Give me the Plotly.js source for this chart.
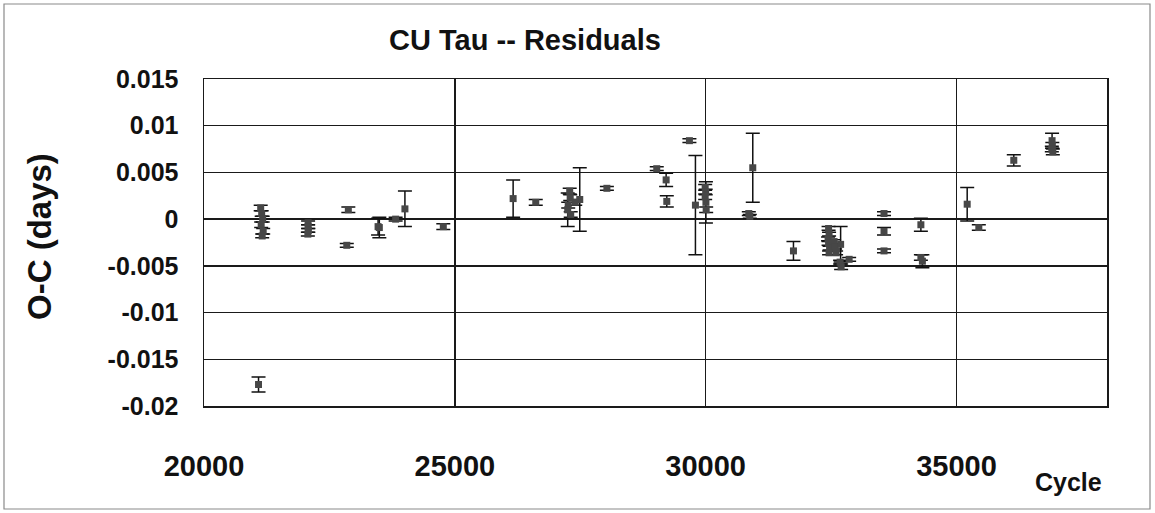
<!DOCTYPE html>
<html>
<head>
<meta charset="utf-8">
<script src="https://cdn.plot.ly/plotly-3.0.1.min.js"></script>
<style>
  html, body { margin: 0; padding: 0; background: #fff; }
  #chart { width: 1155px; height: 513px; }
</style>
</head>
<body>
<div id="chart"></div>
<script>
// Cycle numbers
const cycle = [
  21087,
  21130, 21150, 21170, 21140, 21180, 21160,
  22075, 22075, 22080, 22070,
  22877, 22846,
  23495, 23470,
  23820, 24005, 24770,
  26162, 26613,
  27290, 27300, 27260, 27250, 27310, 27490, 27400,
  28031,
  29025, 29212, 29225, 29676, 29796,
  29990, 30000, 29990, 30010, 30005,
  30939, 30860, 30880,
  31750,
  32450, 32460, 32440, 32450, 32470, 32460, 32560, 32580, 32600, 32690, 32680, 32700, 32860,
  33555, 33555, 33555,
  34290, 34290, 34320,
  35213, 35445,
  36142,
  36905, 36910, 36900, 36920
];
// O-C residuals (days)
const oc = [
  -0.0177,
  0.0012, 0.0006, 0.0000, -0.0006, -0.0013, -0.0018,
  -0.0004, -0.0008, -0.0012, -0.0016,
  0.0010, -0.0028,
  -0.0009, -0.0008,
  0.0000, 0.0011, -0.0008,
  0.0022, 0.0018,
  0.0030, 0.0023, 0.0015, 0.0010, 0.0005, 0.0021, 0.0018,
  0.0033,
  0.0054, 0.0042, 0.0019, 0.0084, 0.0015,
  0.0034, 0.0029, 0.0024, 0.0010, 0.0018,
  0.0055, 0.0006, 0.0003,
  -0.0034,
  -0.0010, -0.0016, -0.0021, -0.0026, -0.0031, -0.0036, -0.0024, -0.0030, -0.0036, -0.0027, -0.0046, -0.0051, -0.0043,
  0.0006, -0.0013, -0.0034,
  -0.0006, -0.0041, -0.0045,
  0.0016, -0.0009,
  0.0063,
  0.0084, 0.0079, 0.0075, 0.0072
];
// Error (days)
const err = [
  0.0008,
  0.0003, 0.0003, 0.0003, 0.0003, 0.0003, 0.0002,
  0.0002, 0.0002, 0.0002, 0.0002,
  0.0003, 0.0002,
  0.0011, 0.0009,
  0.0002, 0.0019, 0.0003,
  0.0020, 0.0003,
  0.0003, 0.0003, 0.0003, 0.0018, 0.0003, 0.0034, 0.0003,
  0.0002,
  0.0002, 0.0007, 0.0006, 0.0002, 0.0053,
  0.0003, 0.0003, 0.0003, 0.0003, 0.0022,
  0.0037, 0.0002, 0.0002,
  0.0010,
  0.0002, 0.0002, 0.0002, 0.0002, 0.0002, 0.0002, 0.0002, 0.0002, 0.0002, 0.0019, 0.0002, 0.0003, 0.0002,
  0.0002, 0.0004, 0.0002,
  0.0007, 0.0003, 0.0007,
  0.0018, 0.0003,
  0.0006,
  0.0008, 0.0003, 0.0003, 0.0003
];
const xTicks = [20000, 25000, 30000, 35000];
const yTicks = [0.015, 0.01, 0.005, 0, -0.005, -0.01, -0.015, -0.02];
const yTickText = ['0.015', '0.01', '0.005', '0', '-0.005', '-0.01', '-0.015', '-0.02'];

const FONT = 'Liberation Sans, Arial, sans-serif';
const W = 1155, H = 513;
const M = {l: 204, r: 48, t: 79, b: 107};
const pw = W - M.l - M.r, ph = H - M.t - M.b;
const px = v => (v - M.l) / pw;
const py = v => (H - M.b - v) / ph;

const trace = {
  x: cycle, y: oc, type: 'scatter', mode: 'markers',
  marker: {symbol: 'square', size: 7, color: '#474747'},
  error_y: {type: 'data', array: err, visible: true, color: '#111', thickness: 1.5, width: 7},
  hoverinfo: 'x+y'
};

const layout = {
  width: W, height: H,
  margin: M,
  paper_bgcolor: '#fff', plot_bgcolor: '#fff',
  showlegend: false,
  font: {family: FONT, color: '#111'},
  title: {
    text: '<b>CU Tau -- Residuals</b>',
    font: {family: FONT, size: 29, color: '#111'},
    x: 525 / W, xref: 'container', xanchor: 'center',
    y: 1 - 40 / H, yref: 'container', yanchor: 'middle'
  },
  xaxis: {
    range: [20000, 38000],
    tickvals: xTicks, ticktext: xTicks.map(String),
    showgrid: true, gridcolor: '#1a1a1a', gridwidth: 1.4,
    zeroline: false,
    showline: true, linecolor: '#1a1a1a', linewidth: 1.5, mirror: true,
    ticks: '', ticklabelstandoff: 34,
    tickfont: {family: FONT, size: 29, color: '#111', weight: 'bold'}
  },
  yaxis: {
    range: [-0.02, 0.015],
    tickvals: yTicks, ticktext: yTickText,
    showgrid: true, gridcolor: '#1a1a1a', gridwidth: 1.4,
    zeroline: false,
    showline: true, linecolor: '#1a1a1a', linewidth: 1.5, mirror: true,
    ticks: '', ticklabelstandoff: 19,
    tickfont: {family: FONT, size: 25, color: '#111', weight: 'bold'}
  },
  annotations: [
    {text: '<b>O-C (days)</b>', textangle: -90, showarrow: false,
     xref: 'paper', yref: 'paper', x: px(40), y: py(237), xanchor: 'center', yanchor: 'middle',
     font: {family: FONT, size: 33, color: '#111'}},
    {text: '<b>Cycle</b>', showarrow: false,
     xref: 'paper', yref: 'paper', x: px(1068), y: py(482), xanchor: 'center', yanchor: 'middle',
     font: {family: FONT, size: 25, color: '#111'}}
  ],
  shapes: [
    {type: 'rect', xref: 'paper', yref: 'paper', x0: px(4), x1: px(1150), y0: py(509), y1: py(4),
     line: {color: '#8a8a8a', width: 1.2}, layer: 'below'}
  ]
};

Plotly.newPlot('chart', [trace], layout, {displayModeBar: false, staticPlot: true});
</script>
</body>
</html>
